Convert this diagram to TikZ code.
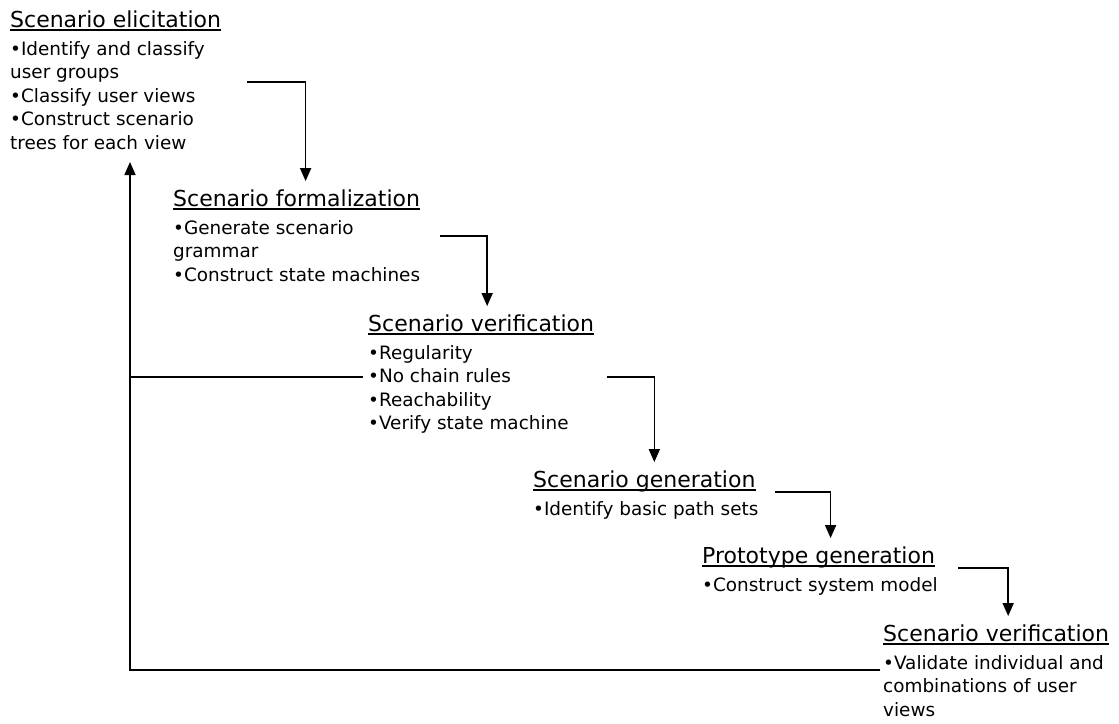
\documentclass[tikz,border=0pt]{standalone}
\usepackage{fontspec}
\setmainfont{DejaVu Sans}
\usetikzlibrary{arrows.meta, positioning, calc}
\tikzset{
    phase/.style={
        inner sep=0pt,
        anchor=base west,
        font=\fontsize{22}{26}\selectfont
    },
    tasks/.style={
        inner sep=0pt,
        align=left,
        font=\fontsize{18.4}{23.5}\selectfont
    },
    uline/.style={
        line width=1.3pt
    },
    flow/.style={
        -{Triangle[length=13pt,width=11pt]},
        line width=1.6pt
    },
    back/.style={
        line width=1.6pt
    }
}

\begin{document}
\begin{tikzpicture}[x=1pt, y=-1pt]
    \useasboundingbox (0,0) rectangle (1119,723);

    % phases run down the page as a staircase
    \node[phase] (elic)   at (10,27)  {Scenario elicitation};
    \node[phase] (formal) at (173,206) {Scenario formalization};
    \node[phase] (verif)  at (368,331) {Scenario verification};
    \node[phase] (gener)  at (533,487) {Scenario generation};
    \node[phase] (proto)  at (702,563) {Prototype generation};
    \node[phase] (valid)  at (883,641) {Scenario verification};

    \foreach \p in {elic,formal,verif,gener,proto,valid}
        \draw[uline] ([yshift=-3pt]\p.base west) -- ([yshift=-3pt]\p.base east);

    % task lists under each phase
    \node[tasks, below right=14pt and 0pt of elic.base west] (elicT)
        {•Identify and classify\\user groups\\•Classify user views\\•Construct scenario\\trees for each view};
    \node[tasks, below right=14pt and 0pt of formal.base west] (formalT)
        {•Generate scenario\\grammar\\•Construct state machines};
    \node[tasks, below right=14pt and 0pt of verif.base west] (verifT)
        {•Regularity\\•No chain rules\\•Reachability\\•Verify state machine};
    \node[tasks, below right=14pt and 0pt of gener.base west] (generT)
        {•Identify basic path sets};
    \node[tasks, below right=14pt and 0pt of proto.base west] (protoT)
        {•Construct system model};
    \node[tasks, below right=14pt and 0pt of valid.base west] (validT)
        {•Validate individual and\\combinations of user\\views};

    % step arrows
    \coordinate (s1) at (247,82);
    \coordinate (s2) at (440,236);
    \coordinate (s3) at (607,377);
    \coordinate (s4) at (775,492);
    \coordinate (s5) at (958,568);
    \draw[flow] (s1) -| ([xshift=9pt,yshift=8pt]formal.north);
    \draw[flow] (s2) -| ([xshift=6pt,yshift=8pt]verif.north);
    \draw[flow] (s3) -| ([xshift=10pt,yshift=8pt]gener.north);
    \draw[flow] (s4) -| ([xshift=12pt,yshift=8pt]proto.north);
    \draw[flow] (s5) -| ([xshift=12pt,yshift=8pt]valid.north);

    % feedback to elicitation
    \coordinate (fbstart)  at (880,670);
    \coordinate (fbcorner) at (130,670);
    \coordinate (fbjoin)   at (130,377);
    \coordinate (fbtip)    at (130,162);
    \draw[flow] (fbstart) -- (fbcorner) -- (fbtip);
    \draw[back] ([xshift=-5pt]verifT.west |- fbjoin) -- (fbjoin);
\end{tikzpicture}
\end{document}
